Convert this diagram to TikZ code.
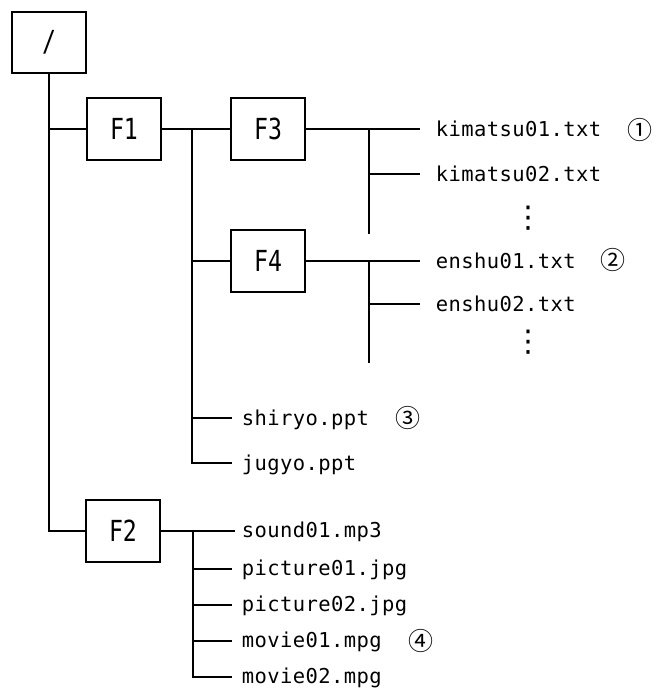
\documentclass[tikz,border=0pt]{standalone}
\usepackage{fontspec}
\newfontfamily\fnfont[LetterSpace=2]{DejaVu Sans Mono}
\newfontfamily\lblfont[FakeStretch=0.8]{DejaVu Sans Mono}
\newfontfamily\symfont{DejaVu Sans}
\newfontfamily\cjkfont{Noto Sans CJK JP}
\usetikzlibrary{calc}
\begin{document}
\begin{tikzpicture}[x=1pt,y=-1pt,
  line width=1.6pt,
  folder/.style={draw, line width=2pt, minimum width=74pt, minimum height=62pt,
    inner sep=0pt, font=\lblfont\fontsize{29pt}{29pt}\selectfont},
  fname/.style={anchor=west, inner ysep=0pt, inner xsep=15pt, text height=15pt, text depth=0pt,
    font=\fnfont\fontsize{20.5pt}{21pt}\selectfont},
  fnameb/.style={fname, inner xsep=9pt},
  fnamec/.style={fname, inner xsep=9pt, text height=13pt},
  circnum/.style={inner sep=0pt, font=\cjkfont\fontsize{25pt}{25pt}\selectfont},
  vdotsnode/.style={inner sep=0pt, font=\symfont\fontsize{30pt}{30pt}\selectfont}
]
\useasboundingbox (0,0) rectangle (654,689);

% folders
\node[folder, minimum height=61pt] (root) at (49,42.5) {/};
\node[folder] (F1) at (124,129) {F1};
\node[folder] (F3) at (268,129) {F3};
\node[folder] (F4) at (268,261) {F4};
\node[folder] (F2) at (123,531) {F2};

% files
\node[fname] (k1) at (420,129) {kimatsu01.txt};
\node[fname] (k2) at (420,174) {kimatsu02.txt};
\node[fname] (e1) at (420,261) {enshu01.txt};
\node[fname] (e2) at (420,304) {enshu02.txt};
\node[fnameb] (sh) at (232,418) {shiryo.ppt};
\node[fnameb] (jg) at (232,463) {jugyo.ppt};
\node[fnamec, inner xsep=6pt] (so) at (235,531) {sound01.mp3};
\node[fnamec] (p1) at (232,569) {picture01.jpg};
\node[fnamec] (p2) at (232,605) {picture02.jpg};
\node[fnamec] (m1) at (232,641) {movie01.mpg};
\node[fnamec] (m2) at (232,677) {movie02.mpg};

% dots
\node[vdotsnode] (d1) at (528,218) {⋮};
\node[vdotsnode] (d2) at (528,342) {⋮};

% circled numbers
\node[circnum] (c1) at (640,130) {①};
\node[circnum] (c2) at (613,260) {②};
\node[circnum] (c3) at (408,418) {③};
\node[circnum] (c4) at (421,641) {④};

% trunk
\draw (root.south) |- (F2.west);
\draw (root.south |- F1.west) -- (F1.west);

% F1 branch
\draw (F1.east) -- (F3.west);
\coordinate (b1) at (192,129);
\draw (b1) |- (jg.west);
\draw (b1 |- F4.west) -- (F4.west);
\draw (b1 |- sh.west) -- (sh.west);

% F3 branch
\draw (F3.east) -- (k1.west);
\coordinate (b3) at (369,129);
\coordinate (b3e) at (369,234);
\draw (b3) -- (b3e);
\draw (b3 |- k2.west) -- (k2.west);

% F4 branch
\draw (F4.east) -- (e1.west);
\coordinate (b4) at (369,261);
\coordinate (b4e) at (369,363);
\draw (b4) -- (b4e);
\draw (b4 |- e2.west) -- (e2.west);

% F2 branch
\draw (F2.east) -- (so.west);
\coordinate (b2) at (193,531);
\draw (b2) |- (m2.west);
\draw (b2 |- p1.west) -- (p1.west);
\draw (b2 |- p2.west) -- (p2.west);
\draw (b2 |- m1.west) -- (m1.west);
\end{tikzpicture}
\end{document}
